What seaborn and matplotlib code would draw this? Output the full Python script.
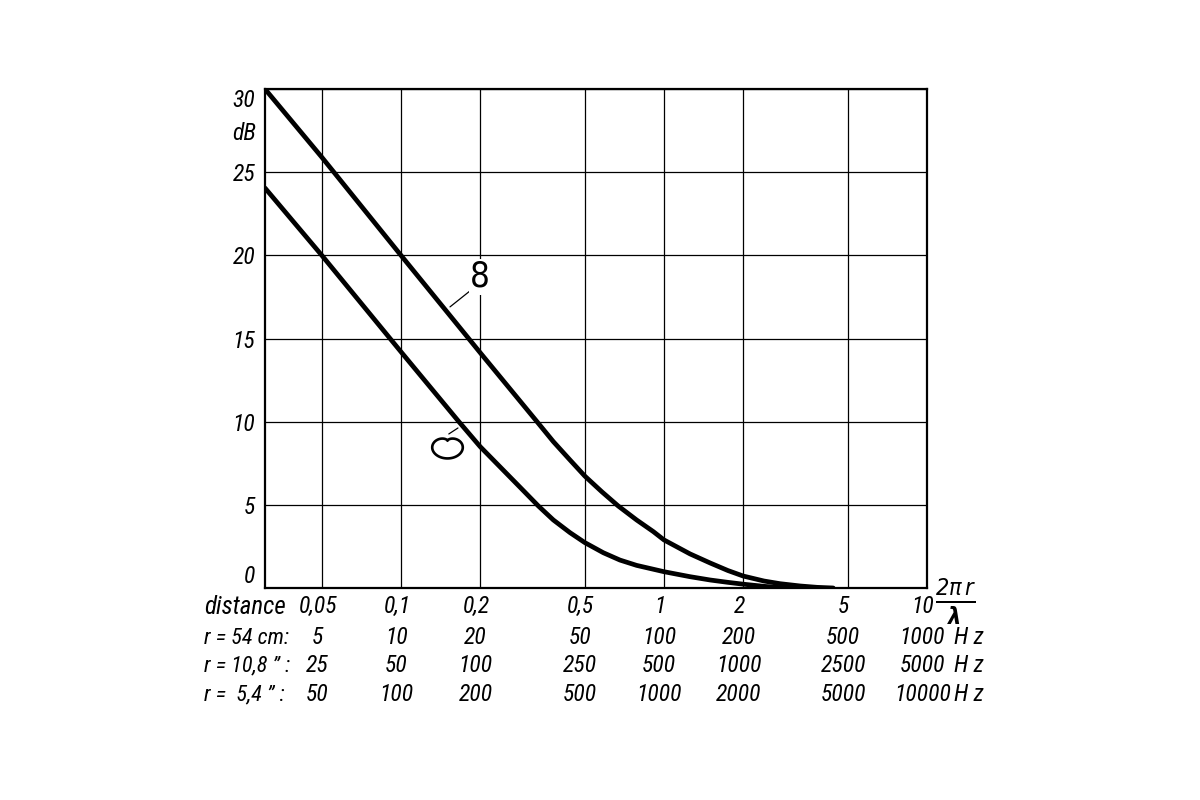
import numpy as np
import pandas as pd
import matplotlib
matplotlib.use('Agg')
import matplotlib.pyplot as plt
import matplotlib.transforms as mtransforms
from matplotlib import font_manager
from matplotlib.path import Path
import seaborn as sns

# values (x = 2*pi*r/lambda, y = dB)
x_eight = [0.0304, 0.05, 0.1, 0.2, 0.329, 0.3796, 0.439, 0.5, 0.58, 0.67, 0.787,
           0.911, 1.0, 1.256, 1.5, 1.75, 2.0, 2.4, 2.76, 3.3, 3.82, 4.4]
y_eight = [30.0, 25.9, 20.0, 14.15, 10.0, 8.8, 7.7, 6.73, 5.79, 4.93, 4.09,
           3.39, 2.89, 2.05, 1.5, 1.05, 0.72, 0.42, 0.26, 0.12, 0.04, 0.0]
x_card = [0.0304, 0.05, 0.1, 0.166, 0.2, 0.2835, 0.333, 0.3796, 0.439, 0.5, 0.588,
          0.68, 0.787, 1.0, 1.256, 1.5, 1.75, 2.0, 2.4, 2.8, 3.2]
y_card = [24.05, 20.0, 14.2, 10.0, 8.5, 6.06, 4.93, 4.09, 3.33, 2.73, 2.12,
          1.68, 1.36, 0.98, 0.68, 0.48, 0.34, 0.23, 0.1, 0.02, 0.0]

x_ticks = [0.05, 0.1, 0.2, 0.5, 1, 2, 5, 10]
distance_labels = ['0,05', '0,1', '0,2', '0,5', '1', '2', '5', '10']
hz_54 = ['5', '10', '20', '50', '100', '200', '500', '1000']
hz_108 = ['25', '50', '100', '250', '500', '1000', '2500', '5000']
hz_54b = ['50', '100', '200', '500', '1000', '2000', '5000', '10000']
y_ticks = [0, 5, 10, 15, 20, 25, 30]

df = pd.concat([
    pd.DataFrame({'x': x_eight, 'dB': y_eight, 'curve': 'eight'}),
    pd.DataFrame({'x': x_card, 'dB': y_card, 'curve': 'cardioid'}),
])

sns.set_style('white')

# a narrow italic face looks closest to the drawing lettering
installed = {f.name for f in font_manager.fontManager.ttflist}
narrow = [n for n in ['Roboto Condensed', 'Liberation Sans Narrow', 'Open Sans Condensed'] if n in installed]
plt.rcParams['font.family'] = narrow + ['DejaVu Sans']
plt.rcParams['font.stretch'] = 'condensed'
plt.rcParams['font.style'] = 'italic'
plt.rcParams['mathtext.fontset'] = 'dejavusans'
plt.rcParams['text.color'] = 'black'
plt.rcParams['xtick.color'] = 'black'
plt.rcParams['ytick.color'] = 'black'
fs = 17 if narrow else 14

fig = plt.figure(figsize=(12, 8), dpi=100)
ax = fig.add_axes([0.2208, 0.265, 0.5517, 0.62375])

sns.lineplot(data=df, x='x', y='dB', hue='curve', palette=['black', 'black'],
             linewidth=3.4, legend=False, ax=ax, sort=False)

ax.set_xscale('log')
ax.set_xlim(0.0304, 10)
ax.set_ylim(0, 30)
ax.set_xlabel('')
ax.set_ylabel('')

ax.set_xticks(x_ticks)
ax.set_xticklabels(distance_labels)
ax.xaxis.set_minor_locator(matplotlib.ticker.NullLocator())
ax.set_yticks(y_ticks)
ax.set_yticklabels([str(v) for v in y_ticks])
ax.tick_params(length=0, labelsize=fs, pad=7)
ax.tick_params(axis='x', pad=5)
shift = mtransforms.ScaledTranslation(-4 / 100, 0, fig.dpi_scale_trans)
for lab in ax.get_xticklabels():
    lab.set_transform(lab.get_transform() + shift)
ylabs = ax.get_yticklabels()
ylabs[0].set_va('bottom')
ylabs[-1].set_va('top')
ax.grid(True, color='black', linewidth=0.9)
for s in ax.spines.values():
    s.set_color('black')
    s.set_linewidth(1.6)

# dB unit between 30 and 25
ax.text(-0.014, 27.35, 'dB', transform=mtransforms.blended_transform_factory(ax.transAxes, ax.transData),
        ha='right', va='center', fontsize=fs)

# 2 pi r / lambda after the 10
ax.text(1.012, -0.028, r'$\frac{2\pi\, r}{\mathbf{\lambda}}$', transform=ax.transAxes,
        ha='left', va='center', fontsize=24)

# extra rows of frequency labels
pos = ax.get_position()
trans = mtransforms.blended_transform_factory(ax.transData, ax.transAxes)
rows = [(hz_54, -0.100), (hz_108, -0.156), (hz_54b, -0.214)]
for labels, yy in rows:
    for xv, lab in zip(x_ticks, labels):
        ax.text(xv * 0.96, yy, lab, transform=trans, ha='center', va='center', fontsize=fs)
    fig.text(954 / 1200, pos.y0 + yy * pos.height, 'H z', ha='left', va='center', fontsize=fs)

fig.text(204 / 1200, 1 - 607 / 800, 'distance', ha='left', va='center', fontsize=fs + 1)
fig.text(204 / 1200, 1 - 638 / 800, 'r = 54 cm:', ha='left', va='center', fontsize=fs - 1)
fig.text(204 / 1200, 1 - 666 / 800, 'r = 10,8 \u201d :', ha='left', va='center', fontsize=fs - 1)
fig.text(204 / 1200, 1 - 695 / 800, 'r =  5,4 \u201d :', ha='left', va='center', fontsize=fs - 1)

# curve symbols: figure-eight and cardioid
ax.text(0.2, 18.7, '8', ha='center', va='center', fontsize=25, style='normal',
        family='DejaVu Sans', bbox=dict(facecolor='white', edgecolor='none', pad=1))
ax.plot([0.1536, 0.183], [16.9, 17.86], color='black', linewidth=0.9)

t = np.linspace(0, 2 * np.pi, 160)
r = 1 - np.sin(t)
verts = np.column_stack([r * np.cos(t), 0.75 * r * np.sin(t)])
verts -= (verts.max(axis=0) + verts.min(axis=0)) / 2
ax.plot([0.1496], [8.42], marker=Path(verts), markersize=22, markerfacecolor='none',
        markeredgecolor='black', markeredgewidth=1.9, linestyle='none')
ax.plot([0.152, 0.1647], [9.26, 9.62], color='black', linewidth=0.9)

fig.savefig('out.png', dpi=100, facecolor='white')
